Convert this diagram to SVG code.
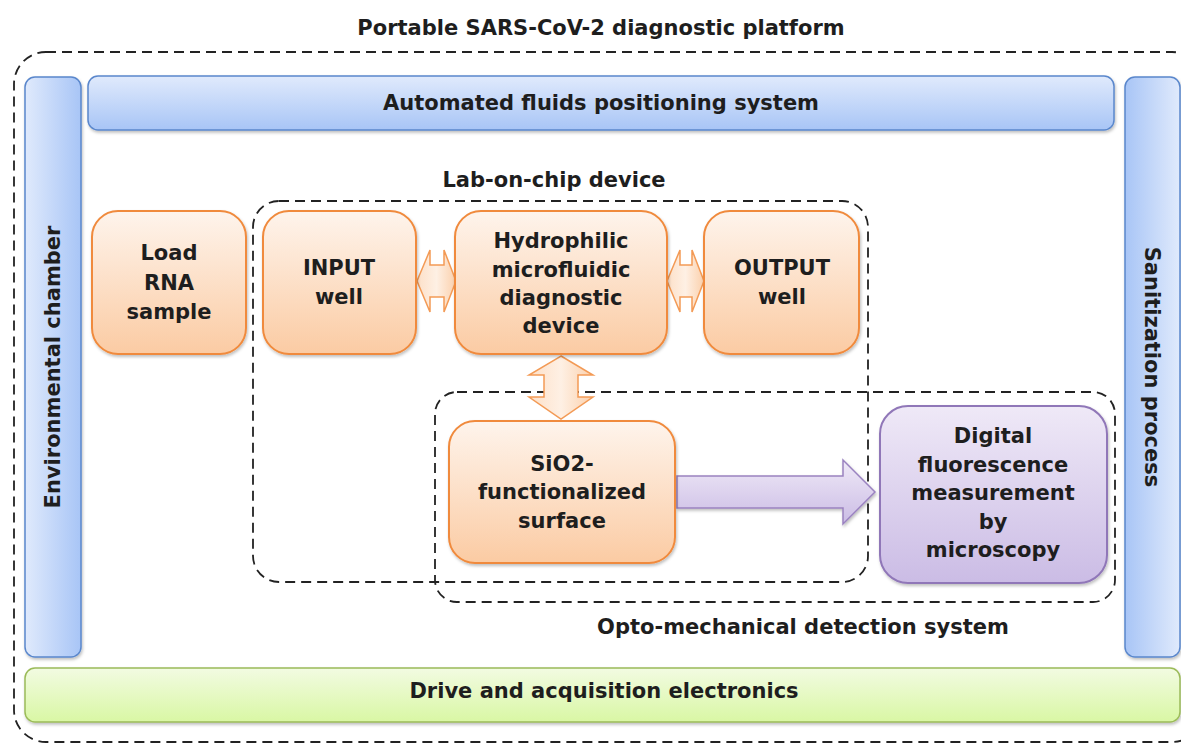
<svg xmlns="http://www.w3.org/2000/svg" width="1181" height="745" viewBox="0 0 1181 745">
  <defs>
    <linearGradient id="blueV" x1="0" y1="0" x2="0" y2="1">
      <stop offset="0" stop-color="#e0eafc"/>
      <stop offset="1" stop-color="#a8c5f6"/>
    </linearGradient>
    <linearGradient id="blueL" x1="0" y1="0" x2="1" y2="0">
      <stop offset="0" stop-color="#e0eafc"/>
      <stop offset="1" stop-color="#a8c5f6"/>
    </linearGradient>
    <linearGradient id="blueR" x1="1" y1="0" x2="0" y2="0">
      <stop offset="0" stop-color="#e0eafc"/>
      <stop offset="1" stop-color="#a8c5f6"/>
    </linearGradient>
    <linearGradient id="green" x1="0" y1="0" x2="0" y2="1">
      <stop offset="0" stop-color="#f2fbe2"/>
      <stop offset="1" stop-color="#d9f7a4"/>
    </linearGradient>
    <linearGradient id="orange" x1="0" y1="0" x2="0" y2="1">
      <stop offset="0" stop-color="#fef4ec"/>
      <stop offset="1" stop-color="#fbcba3"/>
    </linearGradient>
    <linearGradient id="orangeH" x1="0" y1="0" x2="1" y2="0">
      <stop offset="0" stop-color="#fde0c8"/>
      <stop offset="0.5" stop-color="#fef0e4"/>
      <stop offset="1" stop-color="#fbd0ac"/>
    </linearGradient>
    <linearGradient id="purple" x1="0" y1="0" x2="0" y2="1">
      <stop offset="0" stop-color="#efe9f7"/>
      <stop offset="1" stop-color="#cbbce5"/>
    </linearGradient>
    <filter id="shadow" x="-10%" y="-10%" width="120%" height="130%">
      <feDropShadow dx="1" dy="2" stdDeviation="1.5" flood-color="#000" flood-opacity="0.25"/>
    </filter>
  </defs>
  <style>
    text { font-family: "DejaVu Sans", Verdana, sans-serif; font-weight: bold; fill: #1e1e1e; text-anchor: middle; }
    .lbl { font-size: 21px; }
    .box { font-size: 21px; }
    .bar { stroke: #5a87cc; stroke-width: 1.5; filter: url(#shadow); }
    .org { fill: url(#orange); stroke: #f08a3c; stroke-width: 2; filter: url(#shadow); }
    .pur { fill: url(#purple); stroke: #9077b8; stroke-width: 2; filter: url(#shadow); }
    .grn { fill: url(#green); stroke: #9bbb59; stroke-width: 1.5; filter: url(#shadow); }
    .dash { fill: none; stroke: #222; stroke-width: 1.8; stroke-dasharray: 10 6; }
    .arr { fill: url(#orangeH); stroke: #f39a55; stroke-width: 1.5; }
    .parr { fill: url(#purple); stroke: #9a82c0; stroke-width: 1.5; filter: url(#shadow); }
  </style>

  <!-- platform boundary -->
  <g id="platform">
    <rect class="dash" x="14" y="52" width="1190" height="690" rx="32"/>
    <text class="lbl" x="601" y="35">Portable SARS-CoV-2 diagnostic platform</text>
  </g>

  <g id="environmental-chamber">
    <rect class="bar" x="25" y="77" width="56" height="580" rx="10" fill="url(#blueL)"/>
    <text class="lbl" transform="translate(60 367) rotate(-90)">Environmental  chamber</text>
  </g>

  <g id="fluids-positioning">
    <rect class="bar" x="88" y="76" width="1026" height="54" rx="10" fill="url(#blueV)"/>
    <text class="lbl" x="601" y="110">Automated  fluids  positioning  system</text>
  </g>

  <g id="sanitization">
    <rect class="bar" x="1125" y="77" width="55" height="580" rx="10" fill="url(#blueR)"/>
    <text class="lbl" transform="translate(1145 367) rotate(90)">Sanitization  process</text>
  </g>

  <g id="electronics">
    <rect class="grn" x="25" y="668" width="1155" height="54" rx="10"/>
    <text class="lbl" x="604" y="698">Drive and acquisition electronics</text>
  </g>

  <!-- sub-system boundaries -->
  <g id="lab-on-chip">
    <rect class="dash" x="253" y="201" width="615" height="381" rx="26"/>
    <text class="lbl" x="554" y="187">Lab-on-chip device</text>
  </g>
  <g id="opto-mechanical">
    <rect class="dash" x="435" y="392" width="680" height="210" rx="22"/>
    <text class="lbl" x="803" y="634">Opto-mechanical detection system</text>
  </g>

  <!-- connectors -->
  <g id="connectors">
    <path class="arr" d="M417 281 L430 250 L430 265 L444 265 L444 250 L456 281 L444 312 L444 297 L430 297 L430 312 Z"/>
    <path class="arr" d="M667 281 L680 250 L680 265 L692 265 L692 250 L704 281 L692 312 L692 297 L680 297 L680 312 Z"/>
    <path class="arr" d="M561 356 L593 375 L578 375 L578 397 L593 397 L561 419 L529 397 L544 397 L544 375 L529 375 Z"/>
    <path class="parr" d="M677 476 L843 476 L843 460 L875 492 L843 524 L843 508 L677 508 Z"/>
  </g>

  <!-- process nodes -->
  <g id="load-rna">
    <rect class="org" x="92" y="211" width="154" height="143" rx="26"/>
    <text class="box" x="169" y="260">Load</text>
    <text class="box" x="169" y="290">RNA</text>
    <text class="box" x="169" y="319">sample</text>
  </g>
  <g id="input-well">
    <rect class="org" x="263" y="211" width="153" height="143" rx="26"/>
    <text class="box" x="339" y="275">INPUT</text>
    <text class="box" x="339" y="304">well</text>
  </g>
  <g id="microfluidic-device">
    <rect class="org" x="455" y="211" width="212" height="143" rx="26"/>
    <text class="box" x="561" y="248">Hydrophilic</text>
    <text class="box" x="561" y="277">microfluidic</text>
    <text class="box" x="561" y="305">diagnostic</text>
    <text class="box" x="561" y="333">device</text>
  </g>
  <g id="output-well">
    <rect class="org" x="704" y="211" width="155" height="143" rx="26"/>
    <text class="box" x="782" y="275">OUTPUT</text>
    <text class="box" x="782" y="304">well</text>
  </g>
  <g id="sio2-surface">
    <rect class="org" x="449" y="421" width="226" height="142" rx="26"/>
    <text class="box" x="562" y="471">SiO2-</text>
    <text class="box" x="562" y="499">functionalized</text>
    <text class="box" x="562" y="528">surface</text>
  </g>
  <g id="fluorescence">
    <rect class="pur" x="880" y="406" width="227" height="177" rx="28"/>
    <text class="box" x="993" y="443">Digital</text>
    <text class="box" x="993" y="472">fluorescence</text>
    <text class="box" x="993" y="500">measurement</text>
    <text class="box" x="993" y="529">by</text>
    <text class="box" x="993" y="557">microscopy</text>
  </g>
</svg>
